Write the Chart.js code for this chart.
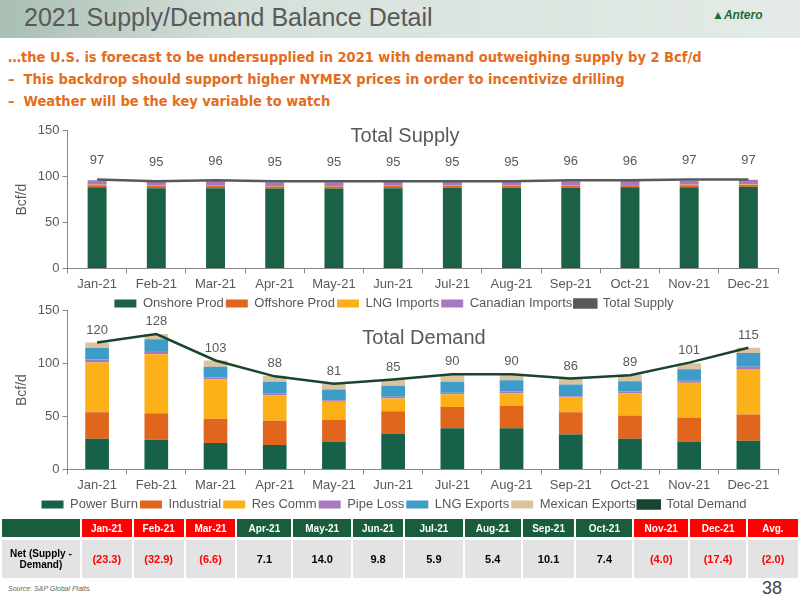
<!DOCTYPE html>
<html><head><meta charset="utf-8">
<script src="https://cdn.jsdelivr.net/npm/chart.js"></script>
<style>
body{margin:0;width:800px;height:600px;position:relative;background:#fff;font-family:"Liberation Sans",Arial,sans-serif;overflow:hidden}
#hdr{position:absolute;left:0;top:0;width:800px;height:38px;background:linear-gradient(90deg,#a9bfb4 0%,#d6e0da 30%,#e4ebe6 100%)}
#ttl{position:absolute;left:24px;top:3px;font-size:25px;color:#595959}
#logo{position:absolute;left:712px;top:8px;font:italic bold 12px "Liberation Sans";color:#1f6b3a}
#bul{position:absolute;left:8px;top:46px;color:#e46c1c;font:bold 14.5px "DejaVu Sans Condensed","Liberation Sans Narrow",sans-serif;line-height:22px}
canvas{position:absolute}
table{position:absolute;left:0;top:519px;border-collapse:separate;border-spacing:2px 0;font:bold 10px "Liberation Sans Narrow","Liberation Sans";}
td{text-align:center;padding:0}
.h td{height:18px;color:#fff}
.v td{height:38px;background:#e3e3e3;color:#000;font-size:11px;border-top:3px solid #fff}
.r{background:#ff0000}.g{background:#1a5c3e}
.v td.n{color:#ff0000}
#src{position:absolute;left:8px;top:585px;font:italic 7px "Liberation Sans";color:#666}
#pg{position:absolute;left:762px;top:578px;font:18px "Liberation Sans Narrow","Liberation Sans";color:#444}
</style></head><body>
<div id="hdr"></div><div id="ttl">2021 Supply/Demand Balance Detail</div>
<div id="logo">▲Antero</div>
<div id="bul">…the U.S. is forecast to be undersupplied in 2021 with demand outweighing supply by 2 Bcf/d<br>–&nbsp;&nbsp;This backdrop should support higher NYMEX prices in order to incentivize drilling<br>–&nbsp;&nbsp;Weather will be the key variable to watch</div>
<canvas id="c1" style="left:8px;top:120px;width:782px;height:200px" width="782" height="200"></canvas>
<canvas id="c2" style="left:8px;top:300px;width:782px;height:221px" width="782" height="221"></canvas>
<table id="tb"></table>
<div id="src">Source: S&amp;P Global Platts.</div><div id="pg">38</div>
<script>
const months=["Jan-21","Feb-21","Mar-21","Apr-21","May-21","Jun-21","Jul-21","Aug-21","Sep-21","Oct-21","Nov-21","Dec-21"];
const onshore=[88.5,87.5,87.5,87,87,87.5,88,88,88,88.5,88.5,89];
const offshore=[2.2,2.2,2.2,2.2,2.2,2.2,2.2,2.2,2.2,2.2,2.2,2.2];
const lngImports=[0.5,0.5,0.4,0.3,0.3,0.3,0.3,0.3,0.3,0.3,0.4,0.5];
const canadian=[5,4.5,5,4.5,4.5,4.5,4.5,4.5,4.5,4.5,4.5,5];
const totalSupply=[97,95,96,95,95,95,95,95,96,96,97,97];
const powerBurn=[29,28,25,23,26,34,39,39,33,29,26,27];
const industrial=[25,25,23,23,21,21,20,21,21,22,23,25];
const resComm=[47,56,37,24,17,12,12,12,14,21,33,43];
const pipeLoss=[3,3,2,1.5,1.5,1.7,1.6,1.6,1.2,1.6,1.9,2];
const lngExports=[11,11,10,11.5,10,10.3,10.2,10.8,11,9.8,10.9,13];
const mexican=[5,5,6,5.5,6,6,7,6,6,6.4,5.6,5];
const totalDemand=[120,128,103,88,81,85,90,90,86,89,101,115];
const net=["(23.3)","(32.9)","(6.6)","7.1","14.0","9.8","5.9","5.4","10.1","7.4","(4.0)","(17.4)","(2.0)"];
const yTicks=[0,50,100,150];

const F="'Liberation Sans',Arial,sans-serif";
const labelPlugin={id:'tot',afterDatasetsDraw(ch,a,o){const idx=ch.data.datasets.findIndex(d=>d.type==='line');const ds=ch.data.datasets[idx];const meta=ch.getDatasetMeta(idx);const c=ch.ctx;c.save();c.font="13px "+F;c.fillStyle="#595959";c.textAlign="center";c.textBaseline="bottom";meta.data.forEach((p,i)=>{c.fillText(ds.data[i],p.x,p.y-o.gap);});c.restore();}};
function mk(id,title,bars,line,lineName,lineColor,gap,titleX,bp,titleDy){
 const ds=bars.map(b=>({type:'bar',label:b[0],data:b[1],backgroundColor:b[2],barPercentage:bp,categoryPercentage:1,order:2}));
 ds.push({type:'line',label:lineName,data:line,borderColor:lineColor,backgroundColor:lineColor,borderWidth:2.5,pointRadius:0,tension:0,order:1});
 return new Chart(document.getElementById(id),{data:{labels:months,datasets:ds},
 options:{responsive:false,animation:false,layout:{padding:{right:12,left:2,top:4}},
 plugins:{tot:{gap:gap},legend:{position:'bottom',labels:{sort:(a,b)=>a.datasetIndex-b.datasetIndex,boxWidth:22,boxHeight:8,padding:2,font:{family:F,size:13},color:'#595959'}},
 title:{display:false},tooltip:{enabled:false}},
 scales:{x:{stacked:true,grid:{display:true,drawOnChartArea:false,color:'#888',tickLength:5,offset:true},border:{color:'#888'},ticks:{padding:3,font:{family:F,size:13},color:'#595959'}},
 y:{stacked:true,min:0,max:150,afterBuildTicks(s){s.ticks=yTicks.map(v=>({value:v}));},grid:{drawOnChartArea:false,color:'#888',tickLength:5},border:{color:'#888'},
 ticks:{font:{family:F,size:13},color:'#595959'},title:{display:true,text:'Bcf/d',font:{family:F,size:14},color:'#595959'}}}},
 plugins:[labelPlugin,{id:'t',afterDraw(ch){const c=ch.ctx;c.save();c.font="20px "+F;c.fillStyle="#595959";c.textAlign="center";c.fillText(title,titleX,ch.chartArea.top+titleDy);c.restore();}}]});
}
mk('c1','Total Supply',[["Onshore Prod",onshore,"#1a6145"],["Offshore Prod",offshore,"#e0661e"],["LNG Imports",lngImports,"#fbb117"],["Canadian Imports",canadian,"#a878c0"]],totalSupply,"Total Supply","#595959",12,397,0.32,6);
mk('c2','Total Demand',[["Power Burn",powerBurn,"#17604a"],["Industrial",industrial,"#e0661e"],["Res Comm",resComm,"#fbb117"],["Pipe Loss",pipeLoss,"#a878c0"],["LNG Exports",lngExports,"#3d9cc8"],["Mexican Exports",mexican,"#dcc3a0"]],totalDemand,"Total Demand","#17452e",6,416,0.4,28);

const widths=[78,50,50,50,54,58,50,58,56,52,56,54,56,50];
const red=[1,1,1,0,0,0,0,0,0,0,1,1,1];
let h='<tr class="h"><td class="g" style="width:'+widths[0]+'px"></td>'+months.concat(["Avg."]).map((m,i)=>`<td class="${red[i]?'r':'g'}" style="width:${widths[i+1]}px">${m}</td>`).join('')+'</tr>';
h+='<tr class="v"><td style="font-size:10px">Net (Supply -<br>Demand)</td>'+net.map((v,i)=>`<td class="${red[i]?'n':''}">${v}</td>`).join('')+'</tr>';
document.getElementById('tb').innerHTML=h;
</script></body></html>
